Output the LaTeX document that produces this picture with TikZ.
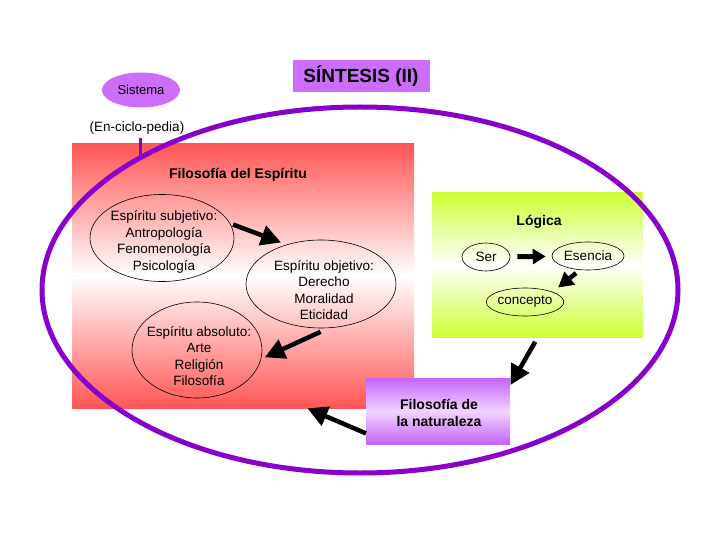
\documentclass[tikz,border=0pt]{standalone}
\usepackage{fontspec}
\setmainfont{Liberation Sans}
\usetikzlibrary{shapes.geometric,arrows.meta}
\definecolor{ringpurple}{RGB}{136,0,204}
\definecolor{lilac}{RGB}{204,110,250}
\definecolor{boxred}{RGB}{255,85,85}
\definecolor{boxgreen}{RGB}{204,255,51}
\definecolor{natpurple}{RGB}{196,100,250}
\definecolor{natlight}{RGB}{242,212,255}
\begin{document}
\begin{tikzpicture}[x=1pt,y=-1pt,
  txt/.style={font=\fontsize{13.5}{16.6}\selectfont, align=center, inner sep=0},
  btxt/.style={font=\bfseries\fontsize{14}{17.5}\selectfont, align=center, inner sep=0},
  oval/.style={draw, ellipse, line width=0.6pt, inner sep=0},
  panel/.style={anchor=north west, inner sep=0, draw=none},
  bigarrow/.style={line width=4.5pt, -{Triangle[length=20pt,width=20pt]}},
  smallarrow/.style={line width=5pt, -{Triangle[length=13pt,width=15pt]}},
]
\useasboundingbox (0,0) rectangle (720,540);
\fill[white] (0,0) rectangle (720,540);

% panels
\node[panel, minimum width=342pt, minimum height=265pt,
  top color=boxred, bottom color=boxred, middle color=white] (espbox) at (72,143) {};
\node[panel, minimum width=211pt, minimum height=145pt,
  top color=boxgreen, bottom color=boxgreen, middle color=white] (logbox) at (432,192) {};

% title and Sistema
\node[fill=lilac, minimum width=137pt, minimum height=32pt, inner sep=0,
  font=\bfseries\fontsize{19}{22}\selectfont] (title) at (361,76) {SÍNTESIS (II)};
\node[ellipse, fill=lilac, minimum width=78pt, minimum height=35pt, inner sep=0,
  font=\fontsize{13}{15}\selectfont] (sistema) at (141,90) {Sistema};
\node[txt] (encyc) at (137,128) {(En-ciclo-pedia)};
\coordinate (tickend) at (140,158);
\draw[ringpurple, line width=3pt] ([yshift=-4pt]encyc.south -| tickend) -- (tickend);

% Filosofía del Espíritu
\node[btxt] (esptitle) at (238,175) {Filosofía del Espíritu};
\node[oval, minimum width=144pt, minimum height=87pt] (subj) at (162,238) {};
\node[txt] (subjt) at (164,242) {Espíritu subjetivo:\\Antropología\\Fenomenología\\Psicología};
\node[oval, minimum width=150pt, minimum height=88pt] (obj) at (321,284) {};
\node[txt] (objt) at (324,290) {Espíritu objetivo:\\Derecho\\Moralidad\\Eticidad};
\node[oval, minimum width=130pt, minimum height=96pt] (abs) at (197,350) {};
\node[txt] (abst) at (199,356) {Espíritu absoluto:\\Arte\\Religión\\Filosofía};

\draw[bigarrow, shorten <=3pt, shorten >=6pt] (subj.12) -- (obj.131);
\draw[bigarrow, shorten <=9pt, shorten >=4pt] (obj.-80) -- (abs.-8);

% Lógica
\node[btxt] (logtitle) at (539,222) {Lógica};
\node[oval, minimum width=48pt, minimum height=28pt, txt] (ser) at (486,257) {Ser};
\node[oval, minimum width=72pt, minimum height=28pt, txt] (ess) at (588,256) {Esencia};
\node[oval, minimum width=66pt, minimum height=28pt, txt] (conc) at (525,302) {concepto};
\draw[smallarrow, shorten <=7pt, shorten >=6pt] (ser) -- (ess);
\draw[smallarrow, line width=4.5pt, -{Triangle[length=15pt,width=16pt]}, shorten <=5pt, shorten >=7pt] (ess.-120) -- (conc.20);

% Filosofía de la naturaleza
\node[panel, minimum width=144pt, minimum height=66pt,
  top color=natpurple, bottom color=natpurple, middle color=natlight] (natbox) at (366,378) {};
\node[btxt] (nattxt) at (439,413) {Filosofía de\\la naturaleza};

\draw[bigarrow, shorten <=5pt] (logbox.south) -- ([yshift=-7pt]natbox.north east);
\draw[bigarrow] ([yshift=11pt]natbox.south west) -- ([xshift=-107pt]espbox.south east);

% enclosing ring
\node[draw=ringpurple, line width=5pt, ellipse, minimum width=636pt, minimum height=366pt, inner sep=0] (ring) at (360,290) {};
\end{tikzpicture}
\end{document}
